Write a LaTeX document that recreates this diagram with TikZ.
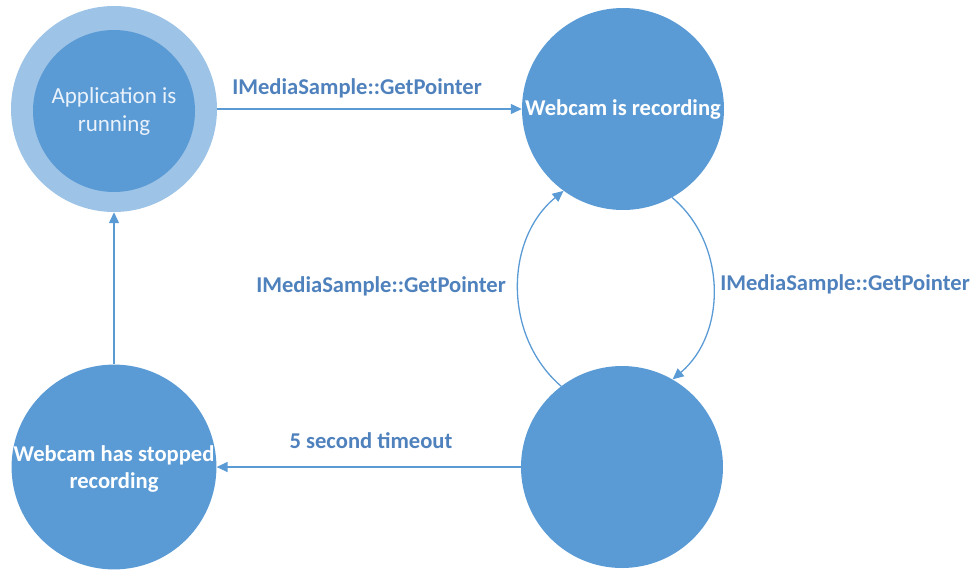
\documentclass[tikz,border=0pt]{standalone}
\usepackage{fontspec}
\setmainfont{Carlito}
\usetikzlibrary{arrows.meta}
\definecolor{stateblue}{HTML}{5B9BD5}
\definecolor{ringblue}{HTML}{9DC3E6}
\definecolor{labelblue}{HTML}{4F81BD}
\definecolor{softwhite}{HTML}{EAF2FB}
\tikzset{
  state/.style={circle, fill=stateblue, inner sep=0pt, minimum size=202pt,
    align=center, text=white, font=\fontsize{22.6}{27}\selectfont\bfseries},
  ring/.style={circle, fill=ringblue, inner sep=0pt, minimum size=206pt},
  conn/.style={draw=stateblue, line width=1.3pt,
    -{Triangle[length=11pt,width=10pt]}},
  edgelabel/.style={text=labelblue, font=\fontsize{22.6}{27}\selectfont\bfseries}
}
\begin{document}
\begin{tikzpicture}[x=1pt,y=-1pt]
  \useasboundingbox (0,0) rectangle (975,571);

  % states
  \node[ring] (appring) at (114,109) {};
  \node[state, minimum size=162pt, text=softwhite,
        font=\fontsize{23}{28}\selectfont] (app) at (114,111)
        {Application is\\running};
  \node[state] (rec) at (623,109) {Webcam is recording};
  \node[state] (idle) at (622,467) {};
  \node[state, text depth=0pt] (stop) at (114,467) {Webcam has stopped\\recording};

  % transitions
  \draw[conn] (appring) -- (rec);
  \draw[conn] (rec.-61) to[bend left=50] (idle.60);
  \draw[conn] (idle.127) to[bend left=50] (rec.234);
  \draw[conn] (idle) -- (stop);
  \draw[conn] (stop) -- (appring);

  % transition labels
  \node[edgelabel] (l1) at (357,88) {IMediaSample::GetPointer};
  \node[edgelabel] (l2) at (845,284) {IMediaSample::GetPointer};
  \node[edgelabel] (l3) at (381,286) {IMediaSample::GetPointer};
  \node[edgelabel] (l4) at (371,441) {5 second timeout};
\end{tikzpicture}
\end{document}
